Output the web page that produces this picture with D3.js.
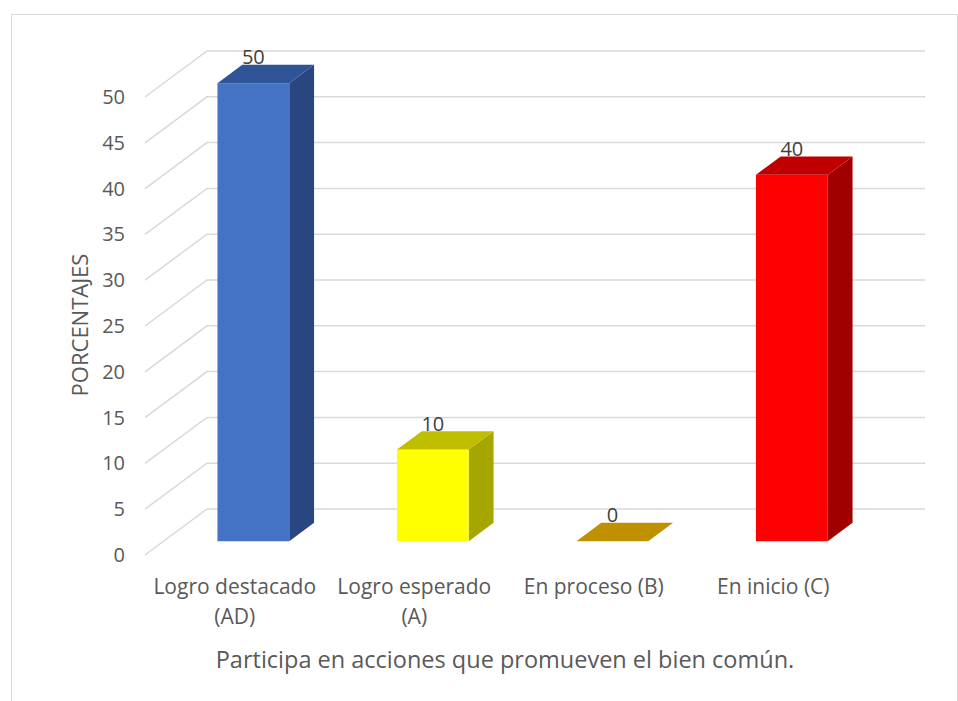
<!DOCTYPE html>
<html lang="es">
<head>
<meta charset="UTF-8">
<title>Participa en acciones</title>
<script src="https://cdn.jsdelivr.net/npm/d3@7"></script>
<style>
    body{ margin:0; background:#fff; }
    text{ font-family: "Open Sans", Lato, sans-serif; fill:#595959; }
</style>
</head>
<body>
<svg width="958" height="701"></svg>
<script>
    var categorias = ["Logro destacado|(AD)", "Logro esperado|(A)", "En proceso (B)", "En inicio (C)"];
    var valores = [50, 10, 0, 40];
    var ticks = [0, 5, 10, 15, 20, 25, 30, 35, 40, 45, 50];
    var frente = ["#4472C4", "#FFFF00", "#BF9000", "#FF0000"];
    var arriba = ["#2F5597", "#BFBF00", "#BF9000", "#C00000"];
    var lado = ["#2A4680", "#A6A600", "#A07800", "#A00000"];

    var svg = d3.select("svg");

    // marco
    svg.append("rect")
        .attr("x", 11.5).attr("y", 14.5)
        .attr("width", 946).attr("height", 700)
        .attr("fill", "none").attr("stroke", "#d9d9d9");

    var x = d3.scaleBand().domain(categorias).range([145, 863])
        .paddingInner(0.6).paddingOuter(0.3);
    var y = d3.scaleLinear().domain([0, 50]).range([555, 97]);

    // profundidad
    var dx = 62, dy = -46;
    function p(px, py, t){ return [px + t*dx, py + t*dy]; }

    var grid = svg.append("g").attr("class", "grid");
    ticks.forEach(function(v){
        var a = p(145, y(v), 0), b = p(145, y(v), 1), c = p(863, y(v), 1);
        grid.append("path")
            .attr("d", "M" + a + "L" + b + "L" + c)
            .attr("fill", "none")
            .attr("stroke", "#d9d9d9")
            .attr("stroke-width", 1.5);
    });

    svg.append("g").selectAll("text").data(ticks).enter().append("text")
        .attr("x", 125).attr("y", function(d){ return y(d); })
        .attr("dy", "0.35em")
        .attr("text-anchor", "end")
        .attr("font-size", 20)
        .text(function(d){ return d; });

    // barras
    var t0 = 0.3, t1 = 0.7;
    var bars = svg.append("g").attr("class", "bars");
    categorias.forEach(function(c, i){
        var x0 = x(c), x1 = x(c) + x.bandwidth();
        var yb = y(0), yt = y(valores[i]);
        var g = bars.append("g");
        function poly(pts){ return "M" + pts.join("L") + "Z"; }
        if (valores[i] > 0) {
            g.append("path")
                .attr("d", poly([p(x1, yt, t0), p(x1, yt, t1), p(x1, yb, t1), p(x1, yb, t0)]))
                .attr("fill", lado[i]);
            g.append("path")
                .attr("d", poly([p(x0, yt, t0), p(x1, yt, t0), p(x1, yb, t0), p(x0, yb, t0)]))
                .attr("fill", frente[i]);
        }
        g.append("path")
            .attr("d", poly([p(x0, yt, t0), p(x1, yt, t0), p(x1, yt, t1), p(x0, yt, t1)]))
            .attr("fill", arriba[i]);

        var lp = p((x0 + x1)/2, yt, t0);
        svg.append("text")
            .attr("x", lp[0]).attr("y", lp[1] - 26)
            .attr("dy", "0.35em")
            .attr("text-anchor", "middle")
            .attr("font-size", 20)
            .style("fill", "#404040")
            .text(valores[i]);
    });

    // etiquetas eje x
    var xl = svg.append("g");
    categorias.forEach(function(c){
        var lineas = c.split("|");
        var t = xl.append("text")
            .attr("x", x(c) + x.bandwidth()/2)
            .attr("y", 594)
            .attr("text-anchor", "middle")
            .attr("font-size", 21);
        lineas.forEach(function(l, j){
            t.append("tspan")
                .attr("x", x(c) + x.bandwidth()/2)
                .attr("dy", j == 0 ? 0 : 30)
                .text(l);
        });
    });

    svg.append("text")
        .attr("x", 505).attr("y", 668)
        .attr("text-anchor", "middle")
        .attr("font-size", 23.5)
        .text("Participa en acciones que promueven el bien común.");

    svg.append("text")
        .attr("transform", "translate(80,325) rotate(-90)")
        .attr("dy", "0.35em")
        .attr("text-anchor", "middle")
        .attr("font-size", 22)
        .text("PORCENTAJES");
</script>
</body>
</html>
